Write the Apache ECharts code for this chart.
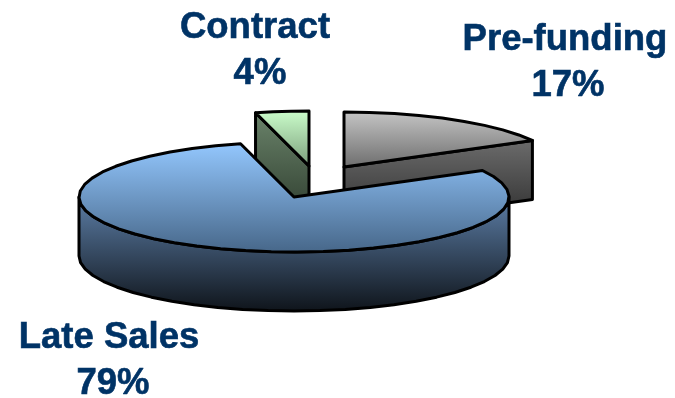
<!DOCTYPE html>
<html>
<head>
<meta charset="utf-8">
<style>html,body{margin:0;padding:0;background:#fff}#chart{width:675px;height:398px}</style>
<script src="https://cdn.jsdelivr.net/npm/echarts@6/dist/echarts.min.js"></script>
</head>
<body>
<div id="chart"></div>
<script>
// Slices listed clockwise, starting from twelve o'clock
const categories = ['Pre-funding', 'Late Sales', 'Contract'];
const shares = [17, 79, 4];

// Exploded slice apex and label placement
const apexX = [344, 294, 309];
const apexY = [167, 197, 166];
const nameX = [565, 109, 255];
const nameY = [40, 338, 28];
const valueX = [568, 113, 260];
const valueY = [86, 384, 74];

// Gradient ends for the top faces and the side walls
const faceTop = ['#c6c6c6', '#94c8ff', '#ccffcc'];
const faceBottom = ['#6c6c6c', '#466688', '#7a9c7a'];
const wallTop = ['#6c6c6c', '#5d7fa8', '#6b846b'];
const wallBottom = ['#2a2a2a', '#0e1319', '#2a382a'];

// Back-to-front painting order
const drawOrder = [0, 2, 1];

const RX = 215, RY = 55, DEPTH = 59, STEP = 7;
const total = shares.reduce((a, b) => a + b, 0);

function sliceAngles(i) {
  const before = shares.slice(0, i).reduce((a, b) => a + b, 0);
  return [before / total * 360, (before + shares[i]) / total * 360];
}

function rimPoint(i, deg, drop) {
  const t = deg * Math.PI / 180;
  return [apexX[i] + RX * Math.sin(t), apexY[i] - RY * Math.cos(t) + (drop || 0)];
}

function arc(i, from, to, drop) {
  const pts = [];
  const n = Math.max(1, Math.ceil(Math.abs(to - from) / STEP));
  for (let k = 0; k <= n; k++) pts.push(rimPoint(i, from + (to - from) * k / n, drop));
  return pts;
}

function vertical(c0, c1) {
  return new echarts.graphic.LinearGradient(0, 0, 0, 1, [
    { offset: 0, color: c0 },
    { offset: 1, color: c1 }
  ]);
}

function renderSlice(params, api) {
  const i = api.value(0);
  const [a0, a1] = sliceAngles(i);
  const apex = [apexX[i], apexY[i]];
  const top = [apex].concat(arc(i, a0, a1));
  const walls = [];

  // Radial walls on the back half turn toward the viewer
  const backFacing = a => Math.cos(a * Math.PI / 180) > 0;
  [[a0, -1], [a1, 1]].forEach(([a, side]) => {
    if (backFacing(a) && Math.sin(a * Math.PI / 180) * side > 0.01) {
      const p = rimPoint(i, a);
      walls.push([apex, p, [p[0], p[1] + DEPTH], [apex[0], apex[1] + DEPTH]]);
    }
  });

  // Outer wall along the front half of the rim
  const lo = Math.max(a0, 90), hi = Math.min(a1, 270);
  if (hi > lo) {
    walls.push(arc(i, lo, hi).concat(arc(i, hi, lo, DEPTH)));
  }

  const edge = { stroke: '#000', lineWidth: 3, lineJoin: 'round' };
  const textStyle = {
    align: 'center', verticalAlign: 'middle',
    font: 'bold 36.5px "Liberation Sans", Arial, sans-serif',
    fill: '#003366', stroke: '#003366', lineWidth: 0.6
  };

  const children = walls.map(w => ({
    type: 'polygon',
    shape: { points: w },
    style: Object.assign({ fill: vertical(wallTop[i], wallBottom[i]) }, edge)
  }));
  children.push({
    type: 'polygon',
    shape: { points: top },
    style: Object.assign({ fill: vertical(faceTop[i], faceBottom[i]) }, edge)
  });
  children.push({
    type: 'text',
    style: Object.assign({ text: categories[i], x: nameX[i], y: nameY[i] }, textStyle)
  });
  children.push({
    type: 'text',
    style: Object.assign({ text: shares[i] + '%', x: valueX[i], y: valueY[i] }, textStyle)
  });
  return { type: 'group', children };
}

const chart = echarts.init(document.getElementById('chart'), null, { renderer: 'canvas' });
chart.setOption({
  animation: false,
  backgroundColor: '#fff',
  series: [{
    type: 'custom',
    coordinateSystem: 'none',
    silent: true,
    clip: false,
    encode: { value: 0 },
    data: drawOrder.map(i => [i]),
    renderItem: renderSlice
  }]
});
</script>
</body>
</html>
